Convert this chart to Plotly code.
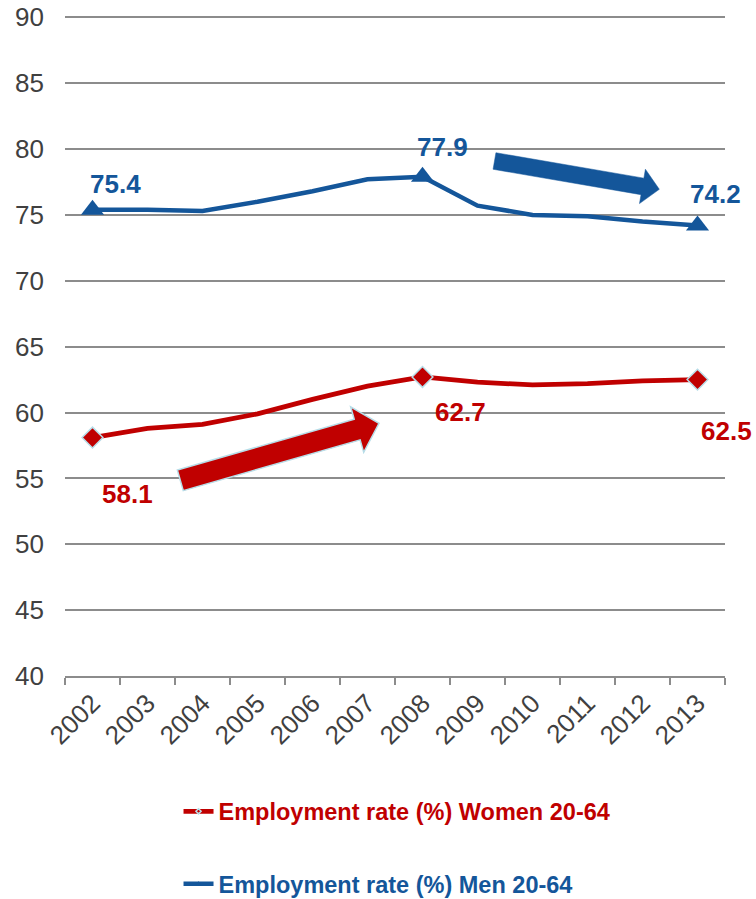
import math
import plotly.graph_objects as go

# ---------------- data ----------------
years = ["2002", "2003", "2004", "2005", "2006", "2007",
         "2008", "2009", "2010", "2011", "2012", "2013"]
women = [58.1, 58.8, 59.1, 59.9, 61.0, 62.0, 62.7, 62.3, 62.1, 62.2, 62.4, 62.5]
men = [75.4, 75.4, 75.3, 76.0, 76.8, 77.7, 77.9, 75.7, 75.0, 74.9, 74.5, 74.2]
women_name = "Employment rate (%) Women 20-64"
men_name = "Employment rate (%) Men 20-64"
labelled_idx = [0, 6, 11]          # points that carry a marker and a value label
y_ticks = [40, 45, 50, 55, 60, 65, 70, 75, 80, 85, 90]

# ---------------- style ----------------
RED = "#C00000"
BLUE = "#14569A"
OUTLINE = "#B7DDE8"
GRID = "#8C8C8C"
TXT = "#404040"
FONT = "Liberation Sans, Arial, sans-serif"

W, H = 756, 899
ML, MR, MT, MB = 65, 31, 16, 223
PW, PH = W - ML - MR, H - MT - MB
Y_RANGE = [40, 90.1]

def sizes(n, s):
    return [s if i in labelled_idx else 0 for i in range(n)]

fig = go.Figure()
fig.add_trace(go.Scatter(
    x=years, y=women, mode="lines+markers",
    name=f"<b><span style='color:{RED}'>{women_name}</span></b>",
    legendgroup="w",
    line=dict(color=RED, width=4.8),
    marker=dict(symbol="diamond", size=sizes(len(years), 16), color=RED,
                opacity=1, line=dict(color=OUTLINE, width=1.5)),
))
fig.add_trace(go.Scatter(
    x=years, y=men, mode="lines+markers",
    name=f"<b><span style='color:{BLUE}'>{men_name}</span></b>",
    legendgroup="m",
    line=dict(color=BLUE, width=4.5),
    marker=dict(symbol="triangle-up", size=sizes(len(years), 20), color=BLUE,
                opacity=1, line=dict(width=0)),
))

# value labels (offsets in pixels relative to the point)
women_off = {0: (35, 56), 6: (38, 35), 11: (29, 51)}
men_off = {0: (23, -26), 6: (20, -30), 11: (18, -31)}
for vals, offs, col in ((women, women_off, RED), (men, men_off, BLUE)):
    for i in labelled_idx:
        dx, dy = offs[i]
        fig.add_annotation(x=i, y=vals[i], xref="x", yref="y",
                           text=f"<b>{vals[i]:.1f}</b>",
                           showarrow=False, xshift=dx, yshift=-dy,
                           font=dict(family=FONT, size=26, color=col),
                           xanchor="center", yanchor="middle")

# block arrows (decoration) defined in pixel space, converted to paper coords
def block_arrow(tail, tip, w, hw, hl):
    x0, y0 = tail
    x1, y1 = tip
    L = math.hypot(x1 - x0, y1 - y0)
    ux, uy = (x1 - x0) / L, (y1 - y0) / L
    nx, ny = -uy, ux
    bx, by = x1 - ux * hl, y1 - uy * hl
    pts = [
        (x0 + nx * w / 2, y0 + ny * w / 2),
        (bx + nx * w / 2, by + ny * w / 2),
        (bx + nx * hw / 2, by + ny * hw / 2),
        (x1, y1),
        (bx - nx * hw / 2, by - ny * hw / 2),
        (bx - nx * w / 2, by - ny * w / 2),
        (x0 - nx * w / 2, y0 - ny * w / 2),
    ]
    path = ""
    for k, (px, py) in enumerate(pts):
        xp = (px - ML) / PW
        yp = (MT + PH - py) / PH
        path += ("M" if k == 0 else "L") + f"{xp:.5f},{yp:.5f}"
    return path + "Z"

fig.add_shape(type="path", xref="paper", yref="paper",
              path=block_arrow((180.3, 480.3), (379, 423.3), 21.5, 47.4, 22.7),
              fillcolor=RED, line=dict(color=OUTLINE, width=1.5), layer="above")
fig.add_shape(type="path", xref="paper", yref="paper",
              path=block_arrow((494.5, 161), (659.3, 189.3), 16.8, 34.9, 17.1),
              fillcolor=BLUE, line=dict(color=BLUE, width=0.5), layer="above")

fig.update_layout(
    width=W, height=H,
    margin=dict(l=ML, r=MR, t=MT, b=MB, pad=0, autoexpand=False),
    paper_bgcolor="white", plot_bgcolor="white",
    font=dict(family=FONT, color=TXT),
    showlegend=True,
    legend=dict(x=0.172, xanchor="left", y=-0.172, yanchor="top",
                orientation="v", tracegroupgap=39, traceorder="grouped",
                font=dict(family=FONT, size=23.5),
                bgcolor="rgba(0,0,0,0)"),
    xaxis=dict(type="category", tickson="boundaries", ticks="outside",
               ticklen=7, tickcolor=GRID, tickwidth=1.5,
               showline=True, linecolor=GRID, linewidth=1.5,
               showgrid=False, tickangle=-45,
               tickfont=dict(family=FONT, size=26, color=TXT),
               range=[-0.5, len(years) - 0.5], fixedrange=True),
    yaxis=dict(range=Y_RANGE, tickvals=y_ticks, showgrid=True,
               gridcolor=GRID, gridwidth=1.5, zeroline=False,
               showline=False, ticks="", ticklabelstandoff=20,
               tickfont=dict(family=FONT, size=26, color=TXT), fixedrange=True),
)

fig.write_html(
    "out.html",
    config={"displayModeBar": False},
    post_script="document.body.style.margin='0';"
                "document.documentElement.style.overflow='hidden';",
)
